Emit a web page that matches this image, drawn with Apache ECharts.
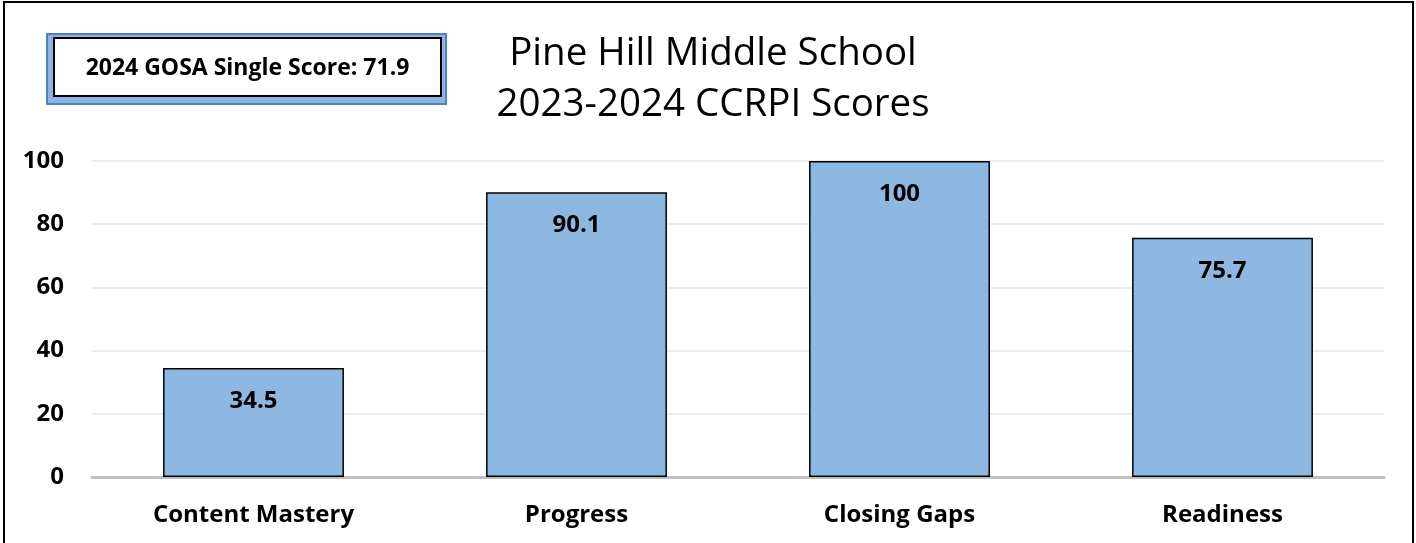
<!DOCTYPE html>
<html>
<head>
<meta charset="utf-8">
<script src="https://cdn.jsdelivr.net/npm/echarts@6/dist/echarts.min.js"></script>
<style>
html,body{margin:0;padding:0;background:#fff;}
#chart{width:1416px;height:543px;}
</style>
</head>
<body>
<div id="chart"></div>
<script>
const categories = ['Content Mastery', 'Progress', 'Closing Gaps', 'Readiness'];
const scores = [34.5, 90.1, 100, 75.7];
const yTicks = [0, 20, 40, 60, 80, 100];
const titleLines = ['Pine Hill Middle School', '2023-2024 CCRPI Scores'];
const boxText = '2024 GOSA Single Score: 71.9';

const FONT = '"Open Sans", Lato, sans-serif';
const chart = echarts.init(document.getElementById('chart'), null, {renderer: 'canvas'});
chart.setOption({
  backgroundColor: '#ffffff',
  animation: false,
  title: {
    text: titleLines.join('\n'),
    left: 708, top: 24, textAlign: 'center',
    textStyle: {fontFamily: FONT, fontSize: 38.5, fontWeight: 'normal', color: '#000', lineHeight: 51}
  },
  graphic: [
    {type: 'rect', shape: {x: 4, y: 2, width: 1409, height: 560}, style: {fill: 'none', stroke: '#000', lineWidth: 2}, silent: true, z: 0},
    {type: 'rect', shape: {x: 47, y: 34, width: 399, height: 70}, style: {fill: '#8db4e2', stroke: '#4f81bd', lineWidth: 2}, z: 10},
    {type: 'rect', shape: {x: 54, y: 38, width: 387, height: 58}, style: {fill: '#ffffff', stroke: '#000', lineWidth: 2}, z: 11},
    {type: 'text', x: 247.5, y: 68, style: {text: boxText, fontFamily: FONT, fontSize: 23, fontWeight: 'bold', fill: '#000', align: 'center', verticalAlign: 'middle'}, z: 12}
  ],
  grid: {left: 92, right: 32, top: 161, bottom: 66, containLabel: false},
  xAxis: {
    type: 'category', data: categories,
    axisLine: {show: true, lineStyle: {color: '#bfbfbf', width: 3}},
    axisTick: {show: false},
    axisLabel: {fontFamily: FONT, fontSize: 24, fontWeight: 'bold', color: '#000', margin: 26}
  },
  yAxis: {
    type: 'value', min: yTicks[0], max: yTicks[yTicks.length - 1], interval: yTicks[1] - yTicks[0],
    axisLine: {show: false}, axisTick: {show: false},
    splitLine: {lineStyle: {color: '#ececec', width: 2}},
    axisLabel: {fontFamily: FONT, fontSize: 24, fontWeight: 'bold', color: '#000', margin: 28}
  },
  series: [{
    type: 'bar', data: scores, barWidth: '56%',
    itemStyle: {color: '#8db8e2', borderColor: '#000', borderWidth: 1.5},
    label: {show: true, position: 'insideTop', distance: 21, fontFamily: FONT, fontSize: 24, fontWeight: 'bold', color: '#000'}
  }]
});
</script>
</body>
</html>
